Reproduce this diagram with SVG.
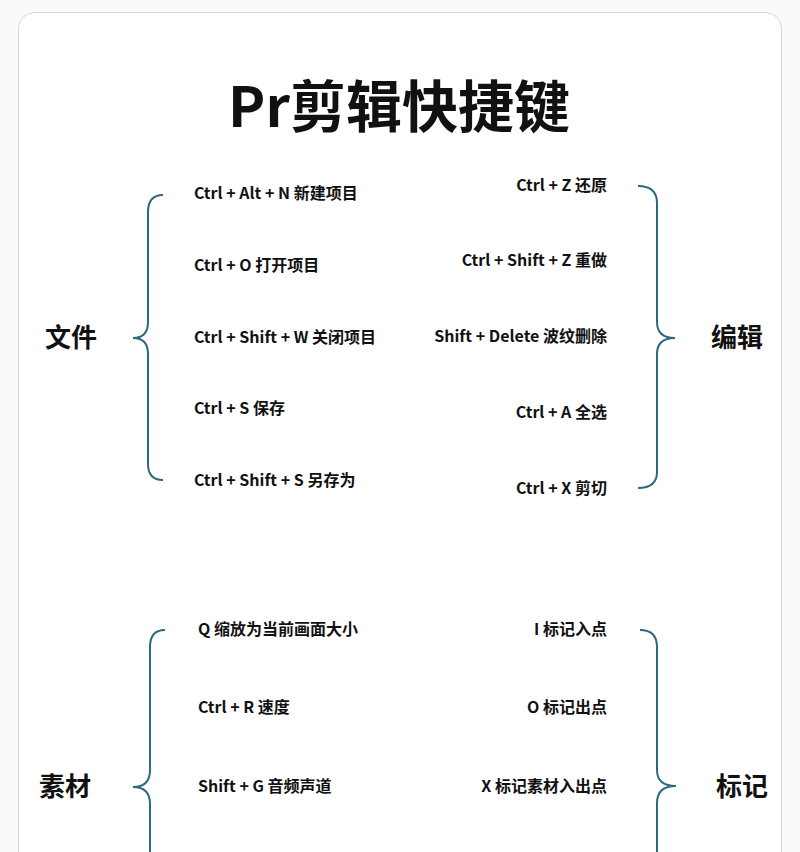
<svg xmlns="http://www.w3.org/2000/svg" width="800" height="852" viewBox="0 0 800 852">
<style>
text{font-family:"Noto Sans CJK SC","Noto Sans",sans-serif;font-weight:700;fill:#111}
.k{font-size:16px}
.c{font-size:26px}
.r{text-anchor:end}
.b{fill:none;stroke:#2b6a80;stroke-width:2}
</style>
<rect width="800" height="852" fill="#fafafa"/>
<rect x="18.5" y="12.5" width="763" height="900" rx="16" fill="#fff" stroke="#d6d6d6"/>
<text x="399" y="127" text-anchor="middle" font-size="56">Pr剪辑快捷键</text>
<g id="connectors">
<path class="b" d="M163,195 Q148,195 148,212 L148,322 Q148,338 133,338 Q148,338 148,354 L148,464 Q148,480 163,480"/>
<path class="b" d="M638,186 Q657,186 657,203 L657,322 Q657,338 675,338 Q657,338 657,354 L657,472 Q657,488 638,488"/>
<path class="b" d="M165,630 Q150,630 150,647 L150,770 Q150,787 133,787 Q150,787 150,804 L150,860"/>
<path class="b" d="M640,630 Q657,630 657,647 L657,770 Q657,786 676,786 Q657,786 657,803 L657,860"/>
</g>
<g id="file"><text class="c" x="71" y="347" text-anchor="middle">文件</text>
<text class="k" x="194" y="199">Ctrl + Alt + N 新建项目</text>
<text class="k" x="194" y="271">Ctrl + O 打开项目</text>
<text class="k" x="194" y="343">Ctrl + Shift + W 关闭项目</text>
<text class="k" x="194" y="414">Ctrl + S 保存</text>
<text class="k" x="194" y="486">Ctrl + Shift + S 另存为</text></g>
<g id="edit"><text class="c" x="737" y="347" text-anchor="middle">编辑</text>
<text class="k r" x="607" y="191">Ctrl + Z 还原</text>
<text class="k r" x="607" y="266">Ctrl + Shift + Z 重做</text>
<text class="k r" x="607" y="342">Shift + Delete 波纹删除</text>
<text class="k r" x="607" y="418">Ctrl + A 全选</text>
<text class="k r" x="607" y="494">Ctrl + X 剪切</text></g>
<g id="media"><text class="c" x="65" y="796" text-anchor="middle">素材</text>
<text class="k" x="198" y="635">Q 缩放为当前画面大小</text>
<text class="k" x="198" y="713">Ctrl + R 速度</text>
<text class="k" x="198" y="792">Shift + G 音频声道</text></g>
<g id="mark"><text class="c" x="742" y="796" text-anchor="middle">标记</text>
<text class="k r" x="607" y="635">I 标记入点</text>
<text class="k r" x="607" y="713">O 标记出点</text>
<text class="k r" x="607" y="792">X 标记素材入出点</text></g>
</svg>
